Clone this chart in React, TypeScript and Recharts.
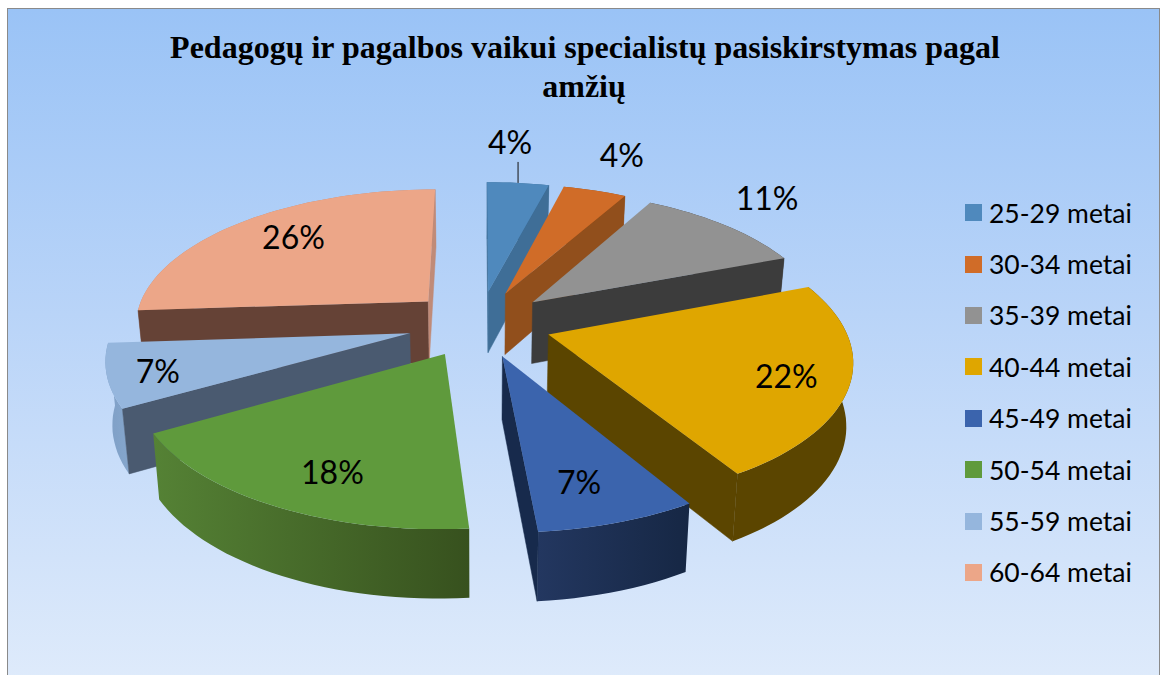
import { Legend, Pie, PieChart } from "recharts";

const TITLE_LINES = ["Pedagogų ir pagalbos vaikui specialistų pasiskirstymas pagal", "amžių"];
const CATEGORIES = [
  "25-29 metai",
  "30-34 metai",
  "35-39 metai",
  "40-44 metai",
  "45-49 metai",
  "50-54 metai",
  "55-59 metai",
  "60-64 metai",
];
const VALUES = [4.0, 4.1, 11, 22.2, 7.2, 18, 7.2, 26];

const TOP_COLORS = ["#4F89BD", "#D06C28", "#929292", "#DFA600", "#3B64AD", "#5F9A3C", "#95B6DD", "#ECA688"];
const SIDE_COLORS = ["#3F6E97", "#914F1C", "#3C3C3C", "#5B4500", "#172A4C", "#3A5521", "#4A5A70", "#654236"];
const END_SIDE_COLORS = ["#3F6E97", "#914F1C", "#3C3C3C", "#5B4500", "#172A4C", "#3A5521", "#4A5A70", "#C08B78"];
// left and right colour of the curved rim
const RIM_COLORS = [
  ["#3F6E97", "#3F6E97"],
  ["#914F1C", "#914F1C"],
  ["#3C3C3C", "#3C3C3C"],
  ["#5B4500", "#5B4500"],
  ["#233760", "#162744"],
  ["#558235", "#37511E"],
  ["#7F9FC6", "#85A6CC"],
  ["#BF8A76", "#BF8A76"],
];

// radial fraction for the label, then a pixel nudge
const LABEL_SPOTS = [
  [1.0, -8, -41],
  [1.0, 27, -36],
  [1.0, 42, -28],
  [0.8, -1, 3],
  [0.6, 12, 32],
  [0.6, -16, 32],
  [0.8, -12, 4],
  [0.63, -14, -13],
];

// painter's order for the walls: farthest sectors first
const WALL_PASSES = [[7], [6], [0, 1, 2, 3, 4, 5]];

const data = CATEGORIES.map((name, i) => ({ name, value: VALUES[i], fill: TOP_COLORS[i] }));

const EXPLODE = 72;
const TILT = 0.462;
const CAMERA = 1850;
const DEPTH = 62;
const RAD = Math.PI / 180;

type Pt = [number, number];

// plane coordinates (Y towards the viewer) to screen, with a small perspective
function project(cx: number, cy: number, X: number, Y: number, drop = 0): Pt {
  const s = CAMERA / (CAMERA - Y);
  return [cx + X * s * (1 - drop * 0.0003), cy + Y * TILT * s + drop * (1 + (s - 1) * 0.5)];
}

function planePoint(mid: number, theta: number, r: number): Pt {
  return [
    EXPLODE * Math.sin(mid * RAD) + r * Math.sin(theta * RAD),
    -EXPLODE * Math.cos(mid * RAD) - r * Math.cos(theta * RAD),
  ];
}

function toPath(points: Pt[]) {
  return "M" + points.map((p) => p[0].toFixed(1) + " " + p[1].toFixed(1)).join("L") + "Z";
}

function sectorGeometry(props: any) {
  const { cx, cy, outerRadius, startAngle, endAngle } = props;
  const from = 90 - startAngle;
  const to = 90 - endAngle;
  const mid = (from + to) / 2;
  const steps = Math.max(4, Math.ceil((to - from) / 2));
  const arc: Pt[] = [];
  for (let i = 0; i <= steps; i++) {
    arc.push(planePoint(mid, from + ((to - from) * i) / steps, outerRadius));
  }
  return { cx, cy, apex: planePoint(mid, 0, 0), arc };
}

// a cut face shows only when the wedge lies above it on screen
function facesViewer(a: Pt, b: Pt, inside: Pt) {
  const cross = (b[0] - a[0]) * (inside[1] - a[1]) - (b[1] - a[1]) * (inside[0] - a[0]);
  return b[0] >= a[0] ? cross < 0 : cross > 0;
}

function SectorWalls({ pass, ...props }: any) {
  const i = CATEGORIES.indexOf(props.name ?? props.payload?.name);
  if (!pass.includes(i)) return null;
  const { cx, cy, apex, arc } = sectorGeometry(props);
  const at = (p: Pt, drop = 0) => project(cx, cy, p[0], p[1], drop);
  const first = arc[0];
  const last = arc[arc.length - 1];
  const middle = at(arc[Math.floor(arc.length / 2)]);
  const rim = [...arc.map((p) => at(p)), ...[...arc].reverse().map((p) => at(p, DEPTH))];
  return (
    <g>
      <defs>
        <linearGradient id={"rim" + i} x1="0" x2="1" y1="0" y2="0">
          <stop offset="0" stopColor={RIM_COLORS[i][0]} />
          <stop offset="1" stopColor={RIM_COLORS[i][1]} />
        </linearGradient>
      </defs>
      <path d={toPath(rim)} fill={`url(#rim${i})`} />
      {facesViewer(at(apex), at(first), middle) && (
        <path
          d={toPath([at(apex), at(first), at(first, DEPTH), at(apex, DEPTH)])}
          fill={SIDE_COLORS[i]}
          stroke={SIDE_COLORS[i]}
          strokeWidth={0.5}
        />
      )}
      {facesViewer(at(apex), at(last), middle) && (
        <path
          d={toPath([at(apex), at(last), at(last, DEPTH), at(apex, DEPTH)])}
          fill={END_SIDE_COLORS[i]}
          stroke={END_SIDE_COLORS[i]}
          strokeWidth={0.5}
        />
      )}
    </g>
  );
}

function SectorTop(props: any) {
  const { cx, cy, apex, arc } = sectorGeometry(props);
  const at = (p: Pt) => project(cx, cy, p[0], p[1]);
  return <path d={toPath([at(apex), ...arc.map((p) => at(p))])} fill={props.fill} />;
}

function SliceLabel(props: any) {
  const { cx, cy, outerRadius, startAngle, endAngle, index, value } = props;
  const mid = 90 - (startAngle + endAngle) / 2;
  const [frac, dx, dy] = LABEL_SPOTS[index];
  const p = planePoint(mid, mid, outerRadius * frac);
  const [x, y] = project(cx, cy, p[0], p[1]);
  return (
    <g>
      {index === 0 && <line x1={x} x2={x} y1={y - 21} y2={y} stroke="#111" strokeWidth={1} />}
      <text
        x={x + dx}
        y={y + dy}
        textAnchor="middle"
        dominantBaseline="central"
        fontFamily="Lato"
        fontSize={32}
        fill="#000"
      >
        {Math.round(value)}%
      </text>
    </g>
  );
}

function LegendList({ payload }: any) {
  const entries = (payload ?? []).filter(
    (entry: any, i: number, all: any[]) => all.findIndex((e) => e.value === entry.value) === i,
  );
  return (
    <div style={{ fontFamily: "Lato", fontSize: 26.5, color: "#000" }}>
      {entries.map((entry: any) => (
        <div key={entry.value} style={{ display: "flex", alignItems: "center", height: 51.4 }}>
          <span style={{ width: 17, height: 17, background: entry.color, marginRight: 7 }} />
          <span>{entry.value}</span>
        </div>
      ))}
    </div>
  );
}

export default function App() {
  return (
    <div style={{ position: "absolute", left: 0, top: 0, width: 1160, height: 675, overflow: "hidden", background: "#fff" }}>
      <div
        style={{
          position: "absolute",
          left: 7,
          top: 8,
          width: 1160,
          height: 680,
          boxSizing: "border-box",
          border: "1.5px solid #8A8A8A",
          background: "linear-gradient(180deg, #9AC3F6 0%, #B9D4F8 45%, #DFEBFB 100%)",
        }}
      />
      <div style={{ position: "absolute", left: 1159, top: 8, width: 1, height: 667, background: "#8A8A8A" }} />
      <PieChart width={1160} height={675} style={{ position: "absolute", left: 0, top: 0 }}>
        <text textAnchor="middle" fontFamily="Liberation Serif" fontWeight="bold" fontSize={32} fill="#000">
          <tspan x={585} y={58}>{TITLE_LINES[0]}</tspan>
          <tspan x={584} y={97}>{TITLE_LINES[1]}</tspan>
        </text>
        {WALL_PASSES.map((pass) => (
          <Pie
            key={pass.join("-")}
            data={data}
            dataKey="value"
            nameKey="name"
            cx={474.5}
            cy={318.5}
            outerRadius={295}
            startAngle={90}
            endAngle={-270}
            legendType="none"
            shape={(props: any) => <SectorWalls {...props} pass={pass} />}
            isAnimationActive={false}
            rootTabIndex={-1}
          />
        ))}
        <Pie
          data={data}
          dataKey="value"
          nameKey="name"
          cx={474.5}
          cy={318.5}
          outerRadius={295}
          startAngle={90}
          endAngle={-270}
          legendType="square"
          shape={SectorTop}
          label={SliceLabel}
          labelLine={false}
          isAnimationActive={false}
          rootTabIndex={-1}
        />
        <Legend
          layout="vertical"
          content={LegendList}
          wrapperStyle={{ position: "absolute", left: 965, top: 187, width: 190 }}
        />
      </PieChart>
    </div>
  );
}
